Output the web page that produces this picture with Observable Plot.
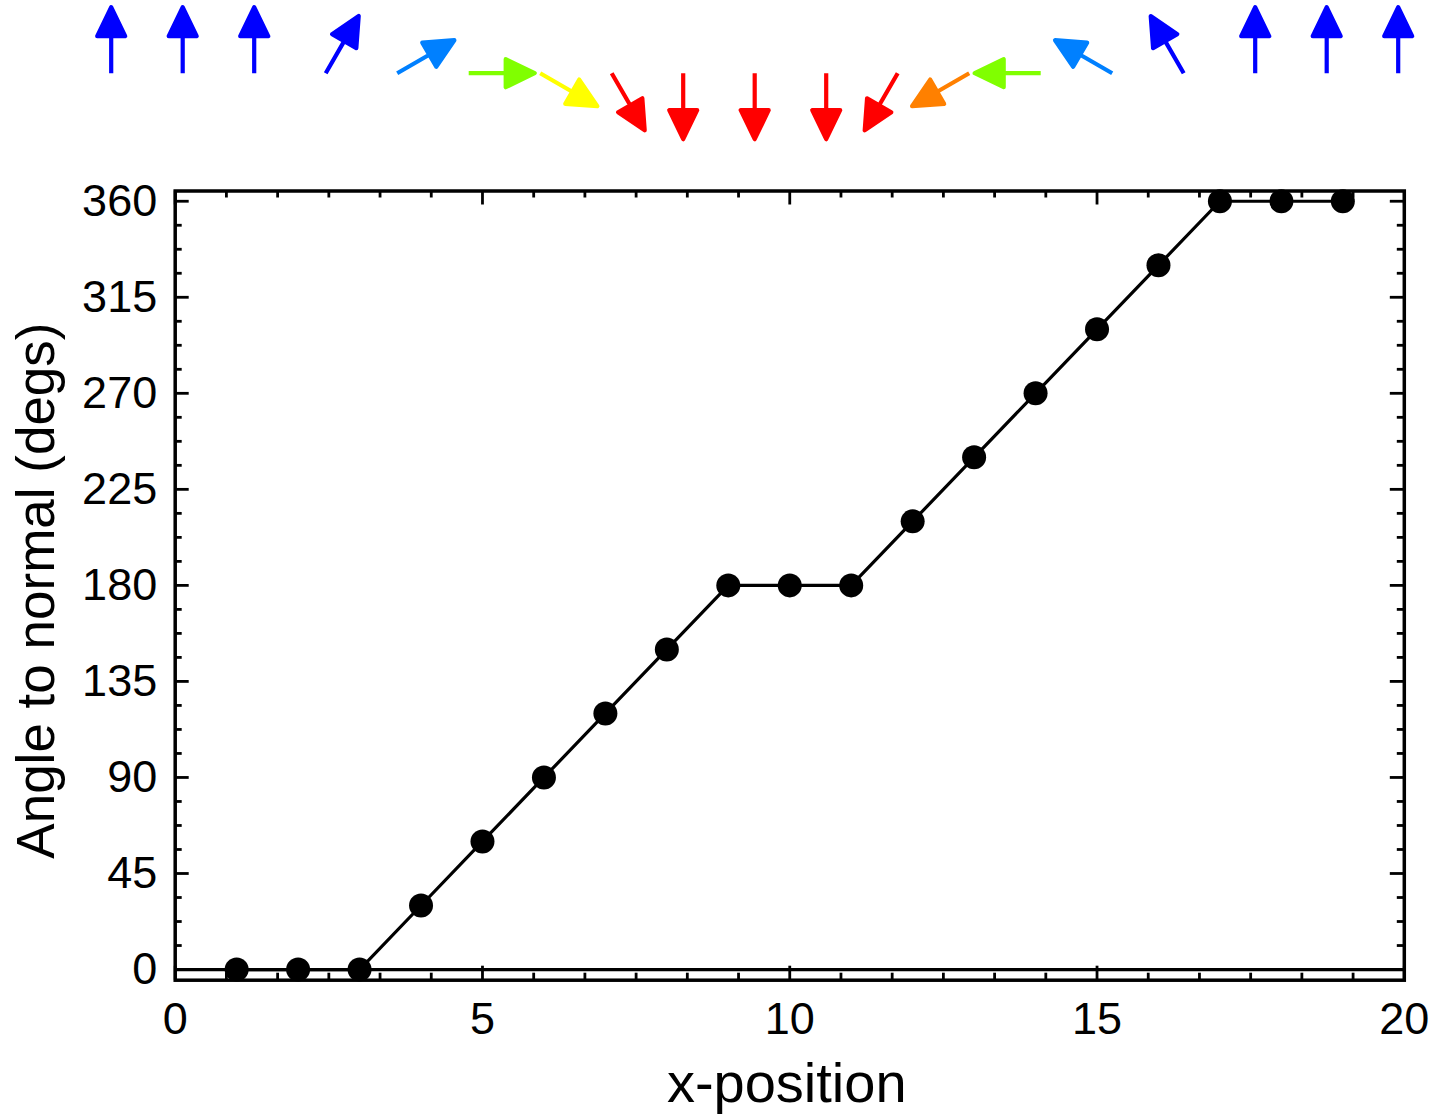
<!DOCTYPE html>
<html>
<head>
<meta charset="utf-8">
<script src="https://cdn.jsdelivr.net/npm/d3@7"></script>
<script src="https://cdn.jsdelivr.net/npm/@observablehq/plot@0.6"></script>
<style>
  html, body { margin: 0; padding: 0; background: #fff; }
  #chart svg { display: block; }
</style>
</head>
<body>
<div id="chart"></div>
<script>
// Site index along the chain
const positions = [1, 2, 3, 4, 5, 6, 7, 8, 9, 10, 11, 12, 13, 14, 15, 16, 17, 18, 19];
// Angle of the moment to the surface normal at each site (degrees)
const angles = [0, 0, 0, 30, 60, 90, 120, 150, 180, 180, 180, 210, 240, 270, 300, 330, 360, 360, 360];
// Colour of the arrow drawn above each site
const arrowColors = [
  "#0000ff", "#0000ff", "#0000ff", "#0000ff", "#0080ff", "#80ff00", "#ffff00",
  "#ff0000", "#ff0000", "#ff0000", "#ff0000", "#ff0000", "#ff8000", "#80ff00",
  "#0080ff", "#0000ff", "#0000ff", "#0000ff", "#0000ff"
];
// Labelled ticks
const xTickLabels = [0, 5, 10, 15, 20];
const yTickLabels = [0, 45, 90, 135, 180, 225, 270, 315, 360];
// Unlabelled minor ticks: six steps per x interval, four per y interval
const xMinorTicks = d3.range(1, 24).filter(k => k % 6 !== 0).map(k => k * 5 / 6);
const yMinorTicks = d3.range(1, 32).filter(k => k % 4 !== 0).map(k => k * 11.25);

const series = positions.map((x, i) => ({x, angle: angles[i]}));
const arrows = positions.map((x, i) => ({position: x, angle: angles[i], color: arrowColors[i]}));

const FONT = "'Liberation Sans', Arial, Helvetica, sans-serif";
const W = 1439;

// Arrow glyph: a shaft plus a filled triangular head, drawn pointing up and
// rotated by the vector mark.
const arrowShape = {
  draw(context, l) {
    const head = 29, half = 14;
    context.moveTo(0, 0);
    context.lineTo(0, head - l);
    context.moveTo(-half, head - l);
    context.lineTo(0, -l);
    context.lineTo(half, head - l);
    context.closePath();
  }
};

// Strip of arrows showing the moment direction at each site
const stripH = 150;
const strip = Plot.plot({
  width: W,
  height: stripH,
  marginLeft: 110.7,
  marginRight: W - 1397.7,
  marginTop: 0,
  marginBottom: stripH - 72.7,
  x: {domain: [1, 19], axis: null},
  color: {type: "identity"},
  style: {background: "#fff", overflow: "visible"},
  marks: [
    Plot.vector(arrows, {
      x: "position",
      rotate: "angle",
      length: 66,
      anchor: "start",
      frameAnchor: "bottom",
      stroke: "color",
      fill: "color",
      strokeWidth: 4.2,
      strokeLinecap: "butt",
      strokeLinejoin: "round",
      shape: arrowShape
    })
  ]
});

// Main framed plot of angle against position
const mainH = 964;
const mL = 174.7, mR = W - 1403.8, mT = 40.5, mB = mainH - 829.7;
const frameW = W - mL - mR, frameH = mainH - mT - mB;
const majorLen = 14, minorLen = 7, tickW = 2.8;

const main = Plot.plot({
  width: W,
  height: mainH,
  marginLeft: mL,
  marginRight: mR,
  marginTop: mT,
  marginBottom: mB,
  style: {fontFamily: FONT, color: "#000", background: "#fff", overflow: "visible"},
  x: {domain: [0, 20]},
  y: {domain: [-5, 364.8]},
  marks: [
    Plot.ruleY([0], {stroke: "#000", strokeWidth: 3.2}),
    Plot.line(series, {x: "x", y: "angle", stroke: "#000", strokeWidth: 3.2}),
    Plot.dot(series, {x: "x", y: "angle", r: 12, fill: "#000", stroke: null}),
    // inward ticks, left and right
    Plot.tickY(yTickLabels, {y: d => d, insetRight: frameW - majorLen, strokeWidth: tickW}),
    Plot.tickY(yTickLabels, {y: d => d, insetLeft: frameW - majorLen, strokeWidth: tickW}),
    Plot.tickY(yMinorTicks, {y: d => d, insetRight: frameW - minorLen, strokeWidth: tickW}),
    Plot.tickY(yMinorTicks, {y: d => d, insetLeft: frameW - minorLen, strokeWidth: tickW}),
    // inward ticks, bottom and top
    Plot.tickX(xTickLabels, {x: d => d, insetTop: frameH - majorLen, strokeWidth: tickW}),
    Plot.tickX(xTickLabels, {x: d => d, insetBottom: frameH - majorLen, strokeWidth: tickW}),
    Plot.tickX(xMinorTicks, {x: d => d, insetTop: frameH - minorLen, strokeWidth: tickW}),
    Plot.tickX(xMinorTicks, {x: d => d, insetBottom: frameH - minorLen, strokeWidth: tickW}),
    Plot.frame({stroke: "#000", strokeWidth: 3.5}),
    Plot.axisX({ticks: xTickLabels, tickSize: 0, tickPadding: 22, fontSize: 45, label: null}),
    Plot.axisY({ticks: yTickLabels, tickSize: 0, tickPadding: 18, fontSize: 45, label: null}),
    Plot.text(["x-position"], {
      text: d => d, frameAnchor: "bottom", lineAnchor: "bottom", dy: 122, dx: -3, fontSize: 56
    }),
    Plot.text(["Angle to normal (degs)"], {
      text: d => d, frameAnchor: "left", textAnchor: "middle", rotate: -90,
      lineAnchor: "bottom", dx: -121.4, dy: 5, fontSize: 53
    })
  ]
});

const chart = document.getElementById("chart");
chart.appendChild(strip);
chart.appendChild(main);
</script>
</body>
</html>
